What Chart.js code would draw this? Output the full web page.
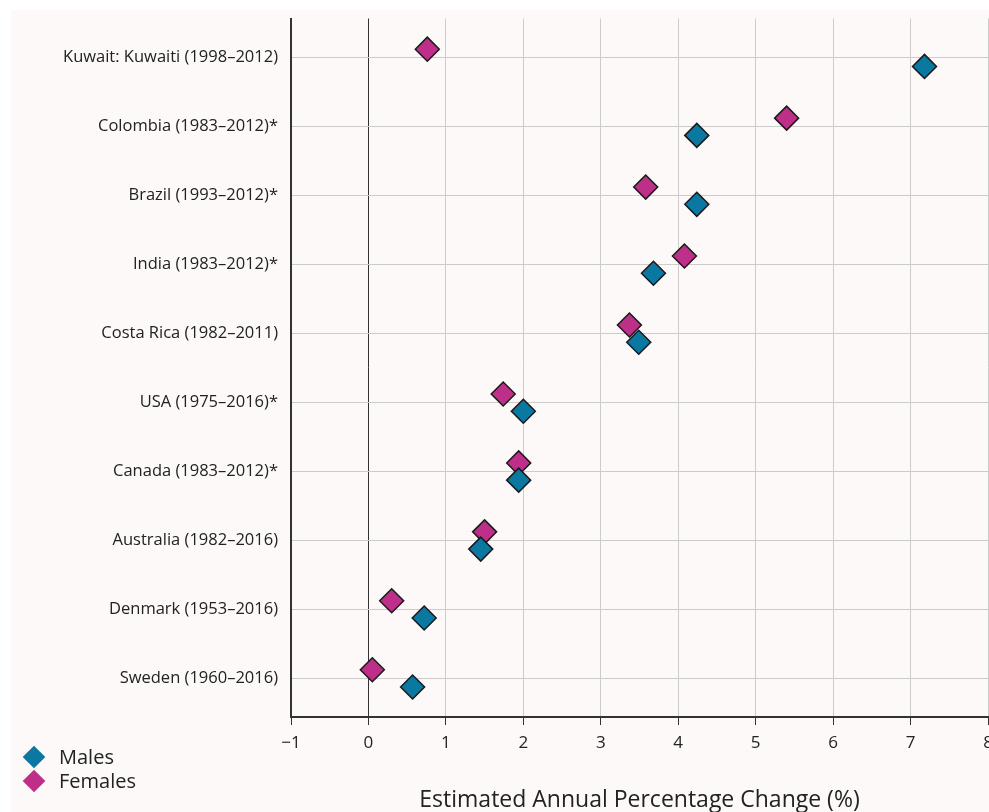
<!DOCTYPE html>
<html lang="en">
<head>
  <meta charset="UTF-8">
  <title>Estimated Annual Percentage Change</title>
  <script src="https://cdn.jsdelivr.net/npm/chart.js"></script>
  <style>
    html, body { margin: 0; padding: 0; background: #fff; overflow: hidden; width: 989px; height: 812px; }
    .panel { position: absolute; left: 11px; top: 10px; width: 1000px; height: 802px; background: #fcf9f8; }
    #chart { position: absolute; left: 0; top: -5px; }
    .key { position: absolute; left: 48px; font-family: "Open Sans", sans-serif; font-size: 20px; color: #222; line-height: 24px; }
    .key i { position: absolute; left: -33px; top: 4px; width: 16px; height: 16px; transform: rotate(45deg); }
  </style>
</head>
<body>
  <div class="panel">
    <canvas id="chart" width="1000" height="807"></canvas>
    <div class="key" style="top:735px;"><i style="background:#0b78a1;"></i>Males</div>
    <div class="key" style="top:759px;"><i style="background:#bd2f88;"></i>Females</div>
  </div>

  <script>
    const categories = [
      "Kuwait: Kuwaiti (1998\u20132012)",
      "Colombia (1983\u20132012)*",
      "Brazil (1993\u20132012)*",
      "India (1983\u20132012)*",
      "Costa Rica (1982\u20132011)",
      "USA (1975\u20132016)*",
      "Canada (1983\u20132012)*",
      "Australia (1982\u20132016)",
      "Denmark (1953\u20132016)",
      "Sweden (1960\u20132016)"
    ];
    const males   = [7.18, 4.24, 4.24, 3.68, 3.49, 2.00, 1.94, 1.45, 0.72, 0.57];
    const females = [0.76, 5.40, 3.58, 4.08, 3.37, 1.74, 1.94, 1.50, 0.30, 0.05];

    const maleColor = "#0b78a1";
    const femaleColor = "#bd2f88";

    // small vertical nudge so the two markers of a row sit apart
    const toPoints = (vals, dy) => vals.map((v, i) => ({ x: v, y: i + dy }));

    new Chart(document.getElementById("chart").getContext("2d"), {
      type: "scatter",
      data: {
        datasets: [
          {
            label: "Males",
            data: toPoints(males, 0.13),
            backgroundColor: maleColor,
            borderColor: "#1a1a1a",
            borderWidth: 1.5,
            pointStyle: "rectRot",
            pointRadius: 12
          },
          {
            label: "Females",
            data: toPoints(females, -0.12),
            backgroundColor: femaleColor,
            borderColor: "#1a1a1a",
            borderWidth: 1.5,
            pointStyle: "rectRot",
            pointRadius: 12
          }
        ]
      },
      options: {
        responsive: false,
        animation: false,
        layout: { padding: { left: 0, right: 23, top: 3, bottom: 0 } },
        plugins: {
          legend: { display: false },
          tooltip: { enabled: false }
        },
        scales: {
          x: {
            type: "linear",
            min: -1,
            max: 8,
            afterFit: s => { s.height = 95; s.paddingLeft = 0; s.paddingRight = 0; },
            ticks: {
              stepSize: 1,
              padding: 8,
              color: "#222",
              font: { family: "Open Sans", size: 17 },
              callback: v => (v < 0 ? "\u2212" + Math.abs(v) : v)
            },
            grid: {
              color: c => (c.tick && c.tick.value === 0 ? "#333" : "#cccccc"),
              lineWidth: 1,
              tickLength: 8,
              tickColor: "#333"
            },
            border: { color: "#333", width: 2 },
            title: {
              display: true,
              text: "Estimated Annual Percentage Change (%)",
              color: "#222",
              font: { family: "Open Sans", size: 23, lineHeight: 1 },
              padding: { top: 0, bottom: 0 }
            }
          },
          y: {
            type: "linear",
            reverse: true,
            min: -0.565,
            max: 9.565,
            afterFit: s => { s.width = 280; s.paddingTop = 0; s.paddingBottom = 0; },
            afterBuildTicks: s => { s.ticks = categories.map((_, i) => ({ value: i })); },
            ticks: {
              autoSkip: false,
              padding: 13,
              color: "#222",
              font: { family: "Open Sans", size: 16.5 },
              callback: v => categories[v]
            },
            grid: { color: "#cccccc", drawTicks: false },
            border: { color: "#333", width: 2 }
          }
        }
      }
    });
  </script>
</body>
</html>
